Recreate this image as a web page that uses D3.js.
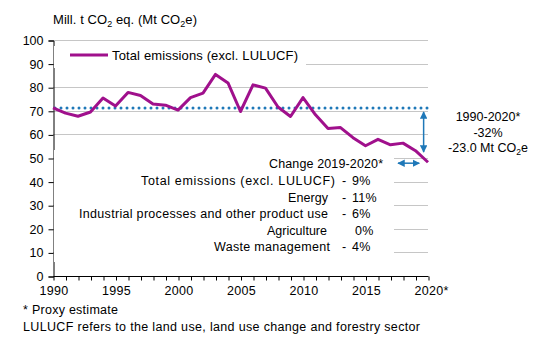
<!DOCTYPE html>
<html>
<head>
<meta charset="utf-8">
<script src="https://cdn.jsdelivr.net/npm/d3@7/dist/d3.min.js"></script>
<style>
html,body{margin:0;padding:0;background:#fff;}
svg{display:block;font-family:"Liberation Sans",Arial,sans-serif;}
</style>
</head>
<body>
<svg id="chart" width="540" height="340"></svg>
<script>
const years = d3.range(1990, 2021);
const emissions = [71.2, 69.0, 67.7, 69.5, 75.4, 72.0, 77.8, 76.5, 72.9, 72.4,
  70.3, 75.6, 77.5, 85.4, 81.8, 69.7, 81.0, 79.6, 71.6, 67.6,
  75.6, 68.3, 62.5, 62.9, 58.6, 55.2, 57.9, 55.6, 56.3, 53.1, 48.2];
const yTicks = [0, 10, 20, 30, 40, 50, 60, 70, 80, 90, 100];
const xLabelYears = [1990, 1995, 2000, 2005, 2010, 2015, 2020];
const seriesName = "Total emissions (excl. LULUCF)";
const changeTitle = "Change 2019-2020*";
const changeCategories = ["Total emissions (excl. LULUCF)", "Energy",
  "Industrial processes and other product use", "Agriculture", "Waste management"];
const changeValues = [-9, -11, -6, 0, -4];
const footnotes = ["* Proxy estimate", "LULUCF refers to the land use, land use change and forestry sector"];
const baseYear = 1990, lastYear = 2020;

const W = 540, H = 340;
const m = {left: 53, right: 112, top: 40, bottom: 64};
const svg = d3.select("#chart");
const x = d3.scaleLinear().domain([1990, 2020]).range([m.left, W - m.right]);
const y = d3.scaleLinear().domain([0, 100]).range([H - m.bottom, m.top]);
const purple = "#a0108c", blue = "#1f78b8";

// fit a text element to a measured width
function fit(sel, w) {
  sel.each(function () {
    const cur = this.getComputedTextLength();
    if (cur > 0) d3.select(this).attr("textLength", w).attr("lengthAdjust", "spacing");
  });
  return sel;
}

// gridlines
svg.append("g").selectAll("line").data(yTicks.filter(d => d > 0)).join("line")
  .attr("x1", x(1990)).attr("x2", x(2020))
  .attr("y1", d => Math.round(y(d)) + 0.5).attr("y2", d => Math.round(y(d)) + 0.5)
  .attr("stroke", "#c6c6c6").attr("stroke-width", 1);

// y axis
const yAxis = d3.axisLeft(y).tickValues(yTicks).tickSize(5).tickPadding(5).tickFormat(d3.format("d"));
const gy = svg.append("g").attr("transform", `translate(${m.left + 0.5},0.5)`).call(yAxis);
gy.select(".domain").attr("stroke", "#000");
gy.selectAll(".tick line").attr("stroke", "#000");
gy.selectAll("text").attr("font-size", 12.5).attr("fill", "#000").attr("font-family", "Liberation Sans, Arial, sans-serif");

// x axis
const xAxis = d3.axisBottom(x).tickValues(years).tickSize(4).tickFormat("");
const gx = svg.append("g").attr("transform", `translate(0.5,${Math.round(y(0)) + 0.5})`).call(xAxis);
gx.select(".domain").attr("stroke", "#000").attr("d", `M${x(1990)},0H${x(2020)}`);
gx.selectAll(".tick line").attr("stroke", "#000");
svg.append("g").selectAll("text").data(xLabelYears).join("text")
  .attr("x", d => x(d) - 13.5).attr("y", y(0) + 19)
  .attr("font-size", 12.5).attr("fill", "#000").attr("letter-spacing", 0.3)
  .text(d => d)
  .append("tspan").text(d => d === lastYear ? "*" : "");

// title
const title = svg.append("text").attr("x", 53).attr("y", 24).attr("font-size", 13).attr("fill", "#000");
title.append("tspan").text("Mill. t CO");
title.append("tspan").attr("font-size", 9).attr("dy", 3).text("2");
title.append("tspan").attr("dy", -3).text(" eq. (Mt CO");
title.append("tspan").attr("font-size", 9).attr("dy", 3).text("2");
title.append("tspan").attr("dy", -3).text("e)");
fit(title, 144);

// white boxes masking gridlines (legend and change table)
svg.append("rect").attr("x", x(1990) + 1).attr("y", 46).attr("width", 252).attr("height", 22).attr("fill", "#fff");
svg.append("rect").attr("x", x(1990) + 1).attr("y", 150).attr("width", 340).attr("height", 112).attr("fill", "#fff");

// baseline dotted line
svg.append("line")
  .attr("x1", x(1990)).attr("x2", x(2020))
  .attr("y1", y(emissions[0])).attr("y2", y(emissions[0]))
  .attr("stroke", blue).attr("stroke-width", 3)
  .attr("stroke-dasharray", "0 6").attr("stroke-linecap", "round")
  .attr("transform", "translate(2,0)");

// emissions line
svg.append("path").datum(emissions)
  .attr("fill", "none").attr("stroke", purple).attr("stroke-width", 3)
  .attr("stroke-linejoin", "round")
  .attr("d", d3.line().x((d, i) => x(years[i])).y(d => y(d)));

// legend
svg.append("line").attr("x1", 70).attr("x2", 108).attr("y1", 55).attr("y2", 55)
  .attr("stroke", purple).attr("stroke-width", 3);
fit(svg.append("text").attr("x", 112).attr("y", 59.5).attr("font-size", 13).attr("fill", "#000").text(seriesName), 186);

// arrow markers
const defs = svg.append("defs");
defs.append("marker").attr("id", "ah").attr("viewBox", "0 0 10 10").attr("refX", 9).attr("refY", 5)
  .attr("markerWidth", 5).attr("markerHeight", 5).attr("orient", "auto-start-reverse")
  .append("path").attr("d", "M0,0L10,5L0,10Z").attr("fill", blue);

// vertical arrow 1990-2020
svg.append("line")
  .attr("x1", x(2019.65)).attr("x2", x(2019.65))
  .attr("y1", y(69.5)).attr("y2", y(52.5))
  .attr("stroke", blue).attr("stroke-width", 1.5)
  .attr("marker-start", "url(#ah)").attr("marker-end", "url(#ah)");
// horizontal arrow 2019-2020
svg.append("line")
  .attr("x1", x(2017.6)).attr("x2", x(2019.3))
  .attr("y1", y(47.8)).attr("y2", y(47.8))
  .attr("stroke", blue).attr("stroke-width", 1.5)
  .attr("marker-start", "url(#ah)").attr("marker-end", "url(#ah)");

// right annotation
const diff = emissions[0] - emissions[emissions.length - 1];
const pct = Math.round(-diff / emissions[0] * 100);
const ax = 488;
svg.append("text").attr("x", ax).attr("y", 121).attr("text-anchor", "middle").attr("font-size", 12.5)
  .text(`${baseYear}-${lastYear}*`);
svg.append("text").attr("x", ax).attr("y", 137).attr("text-anchor", "middle").attr("font-size", 12.5)
  .text(`${pct}%`);
const t3 = svg.append("text").attr("x", ax).attr("y", 152).attr("text-anchor", "middle").attr("font-size", 12.5);
t3.append("tspan").text(`-${diff.toFixed(1)} Mt CO`);
t3.append("tspan").attr("font-size", 8.5).attr("dy", 3).text("2");
t3.append("tspan").attr("dy", -3).text("e");

// change table
fit(svg.append("text").attr("x", 269).attr("y", 167.5).attr("font-size", 12.5).text(changeTitle), 114);
const rowY = i => 185 + i * 16.6;
const rowStart = [141, 288, 79, 267, 214];
const rowEnd = [335, 328, 328, 327, 330];
const rows = svg.append("g").selectAll("g").data(changeCategories).join("g");
rows.append("text").attr("x", (d, i) => rowStart[i]).attr("y", (d, i) => rowY(i))
  .attr("font-size", 12.5).text(d => d)
  .each(function (d, i) { fit(d3.select(this), rowEnd[i] - rowStart[i]); });
rows.append("text").attr("x", 342).attr("y", (d, i) => rowY(i))
  .attr("font-size", 12.5).text((d, i) => changeValues[i] < 0 ? "-" : "");
rows.append("text").attr("x", (d, i) => changeValues[i] === 0 ? 355 : 352).attr("y", (d, i) => rowY(i))
  .attr("font-size", 12.5).attr("letter-spacing", 0.3).text((d, i) => Math.abs(changeValues[i]) + "%");

// footnotes
fit(svg.append("text").attr("x", 23).attr("y", 313.5).attr("font-size", 12.5).text(footnotes[0]), 95);
fit(svg.append("text").attr("x", 23).attr("y", 330.5).attr("font-size", 12.5).text(footnotes[1]), 397);
</script>
</body>
</html>
